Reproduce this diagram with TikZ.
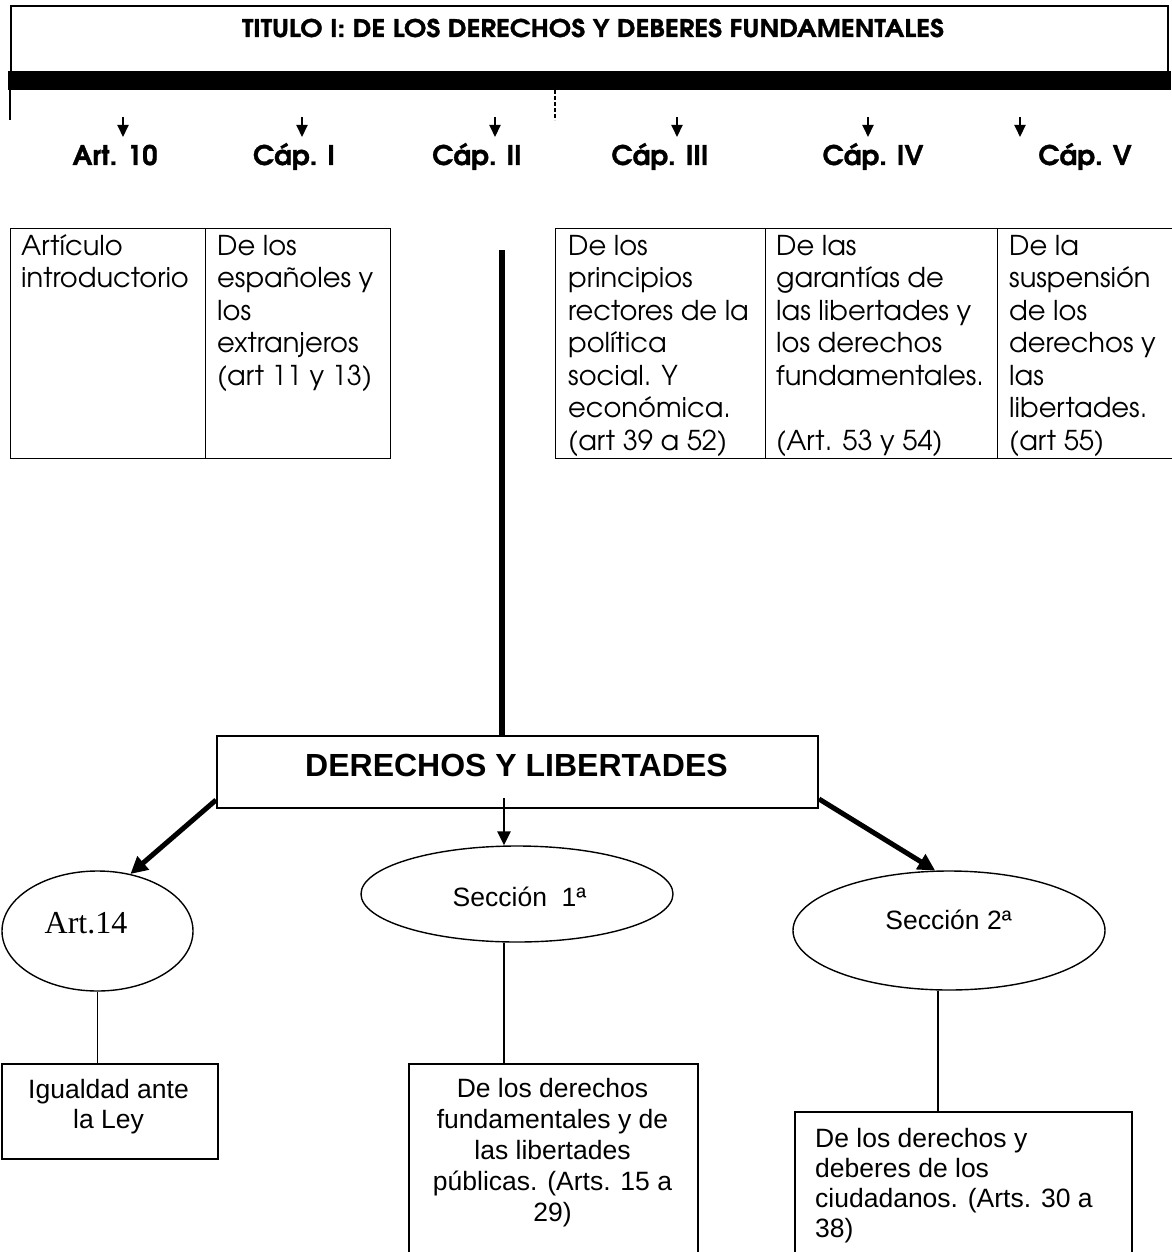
\documentclass[tikz,border=0pt]{standalone}
\usepackage{fontspec}
\setmainfont{Liberation Sans}
\newfontfamily\gothic{texgyreadventor}[Extension=.otf, UprightFont=*-regular, BoldFont=*-bold, BoldFeatures={FakeBold=1.2}]
\newfontfamily\gothicw{texgyreadventor}[Extension=.otf, UprightFont=*-regular, BoldFont=*-bold, BoldFeatures={FakeBold=1.2}, FakeStretch=1.1]
\newfontfamily\timesf{Liberation Serif}
\usetikzlibrary{shapes.geometric,arrows.meta}
\begin{document}
\begin{tikzpicture}[x=1pt,y=-1pt,
  capl/.style={font=\gothic\bfseries\fontsize{27}{30}\selectfont, anchor=base, inner sep=0},
  tcell/.style={anchor=base west, inner sep=0},
  cellbox/.style={draw, line width=1.3, anchor=north west, inner sep=0, minimum height=230},
  smallarr/.style={line width=2, -{Triangle[length=12pt,width=11pt]}},
  ell/.style={draw, ellipse, line width=1.4, inner sep=0},
  bx/.style={draw, line width=2, anchor=north west, inner sep=0},
  thickarr/.style={line width=5, -{Triangle[length=17pt,width=17pt]}},
  midarr/.style={line width=2.8, -{Triangle[length=14pt,width=13pt]}},
  conn/.style={line width=1.5},
  btext/.style={anchor=base, inner sep=0}
]
\useasboundingbox (0,0) rectangle (1171,1252);

% ---------- header ----------
\node[draw, line width=2, anchor=north west, inner sep=0, minimum width=1157, minimum height=67] (head) at (10,5) {};
\fill (8,71) rectangle (1171,90);
\node[font=\gothicw\bfseries\fontsize{24.3}{27}\selectfont, anchor=base, inner sep=0] (titulo) at (593,37) {TITULO I: DE LOS DERECHOS Y DEBERES FUNDAMENTALES};
\coordinate (hla) at (10,90);
\coordinate (hlb) at (10,120);
\coordinate (hda) at (555,90);
\coordinate (hdb) at (555,120);
\draw[line width=1.5] (hla) -- (hlb);
\draw[line width=1.5, dash pattern=on 4pt off 2pt] (hda) -- (hdb);

% ---------- chapter labels ----------
\node[capl] (art10) at (115,165) {Art. 10};
\node[capl] (cap1) at (294,165) {Cáp. I};
\node[capl] (cap2) at (477,165) {Cáp. II};
\node[capl] (cap3) at (660,165) {Cáp. III};
\node[capl] (cap4) at (873,165) {Cáp. IV};
\node[capl] (cap5) at (1085,165) {Cáp. V};
\foreach \n/\x in {a/123,b/302,c/495,d/677,e/868,f/1020}{
  \coordinate (\n s) at (\x,117);
  \coordinate (\n e) at (\x,137);
  \draw[smallarr] (\n s) -- (\n e);
}

% ---------- table ----------
\node[cellbox, minimum width=195] (c1) at (10,228) {};
\node[cellbox, minimum width=185] (c2) at (205,228) {};
\node[cellbox, minimum width=210] (c3) at (555,228) {};
\node[cellbox, minimum width=232] (c4) at (765,228) {};
\node[cellbox, minimum width=180] (c5) at (997,228) {};

\newcommand{\cellfont}{\gothic\fontsize{27.3}{32.5}\selectfont}
\node[tcell] (t1) at (21,255) {\parbox[t]{190pt}{\raggedright\cellfont Artículo\\introductorio}};
\node[tcell] (t2) at (217,255) {\parbox[t]{180pt}{\raggedright\cellfont De los\\españoles y\\los\\extranjeros\\(art 11 y 13)}};
\node[tcell] (t3) at (568,255) {\parbox[t]{200pt}{\raggedright\cellfont De los\\principios\\rectores de la\\política\\social. Y\\económica.\\(art 39 a 52)}};
\node[tcell] (t4) at (776,255) {\parbox[t]{225pt}{\raggedright\cellfont De las\\garantías de\\las libertades y\\los derechos\\fundamentales.\\\strut\\(Art. 53 y 54)}};
\node[tcell] (t5) at (1009,255) {\parbox[t]{170pt}{\raggedright\cellfont De la\\suspensión\\de los\\derechos y\\las\\libertades.\\(art 55)}};

% ---------- derechos y libertades ----------
\node[bx, minimum width=601, minimum height=72] (dl) at (216,735) {};
\node[font=\bfseries\fontsize{32}{35}\selectfont, inner sep=0] (dltext) at (516.5,765) {DERECHOS Y LIBERTADES};
\coordinate (bartop) at (502,250);
\draw[line width=6] (bartop) -- (bartop |- dl.north);

% ---------- ellipses ----------
\node[ell, minimum width=191, minimum height=120] (art14) at (97.5,931) {};
\node[font=\timesf\fontsize{32}{36}\selectfont, btext] (art14t) at (86,933) {Art.14};
\node[ell, minimum width=312, minimum height=96] (s1) at (517,894) {};
\node[font=\fontsize{26.5}{30}\selectfont, btext] (s1t) at (519.5,906) {Sección\ \ 1ª};
\node[ell, minimum width=312, minimum height=119] (s2) at (949,930.5) {};
\node[font=\fontsize{26.5}{30}\selectfont, btext] (s2t) at (948.5,929) {Sección 2ª};

% ---------- arrows from box ----------
\coordinate (ma) at (504,798);
\draw[thickarr] ([yshift=9pt]dl.south west) -- (art14.60);
\draw[midarr] (ma) -- (ma |- s1.north);
\draw[thickarr] ([yshift=10pt]dl.south east) -- (s2.103);

% ---------- bottom boxes ----------
\node[bx, minimum width=216, minimum height=95] (igual) at (1,1063) {};
\node[bx, minimum width=289, minimum height=200] (d1) at (408,1063) {};
\node[bx, minimum width=337, minimum height=160] (d2) at (794,1111) {};

\node[btext] (igualt) at (108.5,1098) {\parbox[t]{210pt}{\centering\fontsize{26.5}{30}\selectfont Igualdad ante\\la Ley}};
\node[btext] (d1t) at (552.5,1097) {\parbox[t]{285pt}{\centering\fontsize{26.5}{31}\selectfont De los derechos\\fundamentales y de\\las libertades\\públicas. (Arts. 15 a\\29)}};
\node[anchor=base west, inner sep=0] (d2t) at (815,1147) {\parbox[t]{320pt}{\raggedright\fontsize{26.5}{30}\selectfont De los derechos y\\deberes de los\\ciudadanos. (Arts. 30 a\\38)}};

\draw[conn] (art14.south) -- (art14.south |- igual.north);
\draw[conn] (ma |- s1.south) -- (ma |- d1.north);
\draw[conn] ([xshift=-11pt]s2.south) -- ([xshift=-11pt]s2.south |- d2.north);
\end{tikzpicture}
\end{document}
